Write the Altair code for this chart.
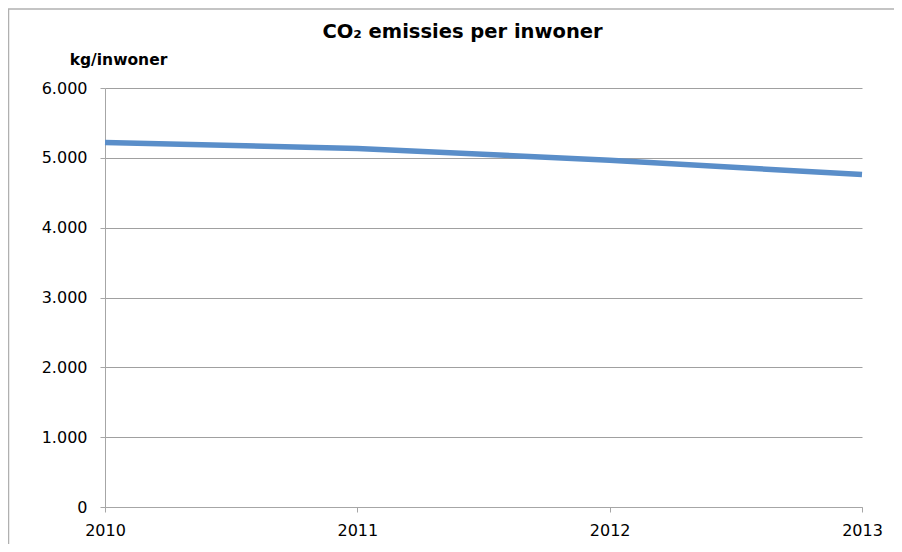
import altair as alt
import pandas as pd

years = [2010, 2011, 2012, 2013]
values = [5220, 5135, 4965, 4760]

df = pd.DataFrame({"jaar": years, "co2": values})

W, H = 757, 419
FONT = "DejaVu Sans"

line = alt.Chart(df).mark_line(color="#5A8EC9", strokeWidth=5.5, clip=False).encode(
    x=alt.X("jaar:Q",
            scale=alt.Scale(domain=[2010, 2013], nice=False, zero=False),
            axis=alt.Axis(values=years, format="d", grid=False, title=None,
                          domainColor="#a6a6a6", tickColor="#a6a6a6", tickSize=5,
                          labelPadding=10, labelFont=FONT, labelFontSize=16,
                          labelColor="#000000", labelFlush=False)),
    y=alt.Y("co2:Q",
            scale=alt.Scale(domain=[0, 6000], nice=False),
            axis=alt.Axis(values=[0, 1000, 2000, 3000, 4000, 5000, 6000],
                          labelExpr="replace(format(datum.value, ','), ',', '.')",
                          grid=True, gridColor="#a0a0a0", gridWidth=1,
                          domainColor="#a6a6a6", tickColor="#a6a6a6", tickSize=5,
                          labelPadding=13, labelFont=FONT, labelFontSize=16,
                          labelColor="#000000",
                          title="kg/inwoner", titleAngle=0, titleX=13, titleY=-24,
                          titleAlign="center", titleBaseline="alphabetic",
                          titleFont=FONT, titleFontSize=15.5, titleFontWeight="bold",
                          titleColor="#000000")),
)

edge = pd.DataFrame({"k": [0]})
top_rule = alt.Chart(edge).mark_rule(color="#b0b0b0", strokeWidth=1.5, clip=False).encode(
    x=alt.value(-97), x2=alt.value(W + 32), y=alt.value(-79)
)
left_rule = alt.Chart(edge).mark_rule(color="#b0b0b0", strokeWidth=1.5, clip=False).encode(
    x=alt.value(-96.5), y=alt.value(-79), y2=alt.value(H + 37)
)

chart = alt.layer(top_rule, left_rule, line).properties(
    width=W, height=H,
    title=alt.TitleParams("CO₂ emissies per inwoner", font=FONT, fontSize=19.5,
                          fontWeight="bold", color="#000000", anchor="middle",
                          dx=-21, offset=-34),
    padding={"left": 97, "top": 80, "right": 32, "bottom": 37},
    autosize=alt.AutoSizeParams(type="none"),
).configure(background="white").configure_view(strokeOpacity=0, strokeWidth=0)

chart.save("out.html", embed_options={"renderer": "svg", "actions": False})
